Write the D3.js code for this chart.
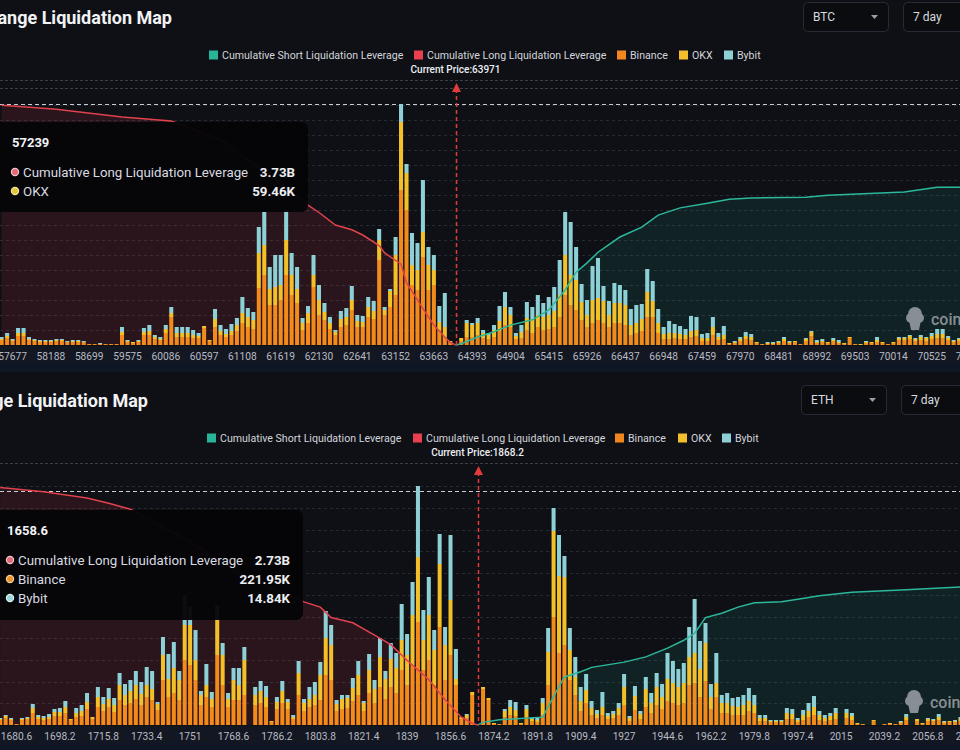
<!DOCTYPE html>
<html>
<head>
<meta charset="utf-8">
<script src="https://cdn.jsdelivr.net/npm/d3@7"></script>
<style>
  html, body { margin: 0; padding: 0; background: #0e1016; overflow: hidden; }
  svg { display: block; }
  text { font-family: Roboto, "Noto Sans", sans-serif; }
</style>
</head>
<body>
<svg id="chart" width="960" height="750"></svg>
<script>
// ---- BTC panel data (bins, K USD) ----
const btcTicks = ['57677','58188','58699','59575','60086','60597','61108','61619','62130','62641','63152','63663',
  '64393','64904','65415','65926','66437','66948','67459','67970','68481','68992','69503','70014','70525','71036']

const btcBinance = [
  5,7,4,9,9,5,4,3,3,3,4,4,3,3,3,3,
  1,1,1,1,1,1,
  10,3,2,3,10,10,6,5,12,28,
  8,8,8,7,7,17,4,18,10,8,
  10,14,22,18,16,57,70,40,40,45,
  70,50,42,15,22,58,30,25,16,10,
  18,20,35,18,18,28,26,85,30,38,
  50,155,135,60,55,88,55,60,15,8,
  3,0,4,8,8,10,7,6,8,14,
  20,18,6,7,15,12,18,15,16,18,
  28,50,40,35,25,18,22,25,22,18,
  22,22,20,10,12,14,28,28,12,6,
  6,7,6,6,8,9,4,4,10,5,
  6,1,2,4,6,5,2,1,1,1,
  2,4,2,3,1,4,9,2,3,2,
  4,2,1,7,1,0,2,2,3,2,
  1,2,5,5,6,4,5,4,6,7,
  7,5,3,4,3,3,2]
const btcOkx = [
  1,2,1,3,3,1,1,1,1,1,1,1,0,1,1,0,
  0,0,0,0,0,0,
  3,1,1,1,3,4,2,1,4,4,
  4,4,4,3,2,2,1,8,4,3,
  4,6,10,10,9,35,30,16,18,15,
  35,20,14,7,10,12,15,8,6,3,
  8,8,10,6,5,10,8,20,5,16,
  40,68,37,20,20,25,25,15,8,10,
  1,0,3,14,12,12,5,4,7,10,
  18,12,3,6,12,14,12,13,14,16,
  22,40,30,30,18,12,23,22,22,12,
  20,20,20,10,10,12,25,16,10,5,
  6,5,5,4,6,6,3,3,8,3,
  4,1,1,2,3,3,1,0,1,1,
  1,2,1,1,0,2,4,1,1,1,
  1,1,1,1,0,1,1,1,2,1,
  0,1,2,2,3,2,3,3,3,4,
  4,2,1,2,1,1,1]
const btcBybit = [
  2,3,1,5,5,2,1,1,1,1,1,1,1,1,1,1,
  0,0,1,0,0,0,
  5,1,0,1,4,6,2,2,4,6,
  6,6,6,5,3,0,0,10,6,5,
  7,7,16,9,8,26,33,22,32,30,
  30,22,22,5,7,20,15,9,6,2,
  8,9,14,6,6,10,10,11,3,2,
  18,18,9,32,27,52,18,15,16,34,
  0,0,0,3,2,5,3,2,5,15,
  15,8,3,7,16,12,20,14,18,24,
  35,43,53,33,18,15,34,40,15,14,
  20,18,15,16,18,15,23,20,14,7,
  12,9,8,6,15,13,4,5,10,4,
  9,0,1,2,4,3,0,0,1,1,
  1,2,1,0,0,1,1,2,2,0,
  2,2,0,0,0,0,1,0,3,0,
  0,0,1,1,1,1,2,1,3,5,
  5,2,1,1,1,1,1]

// cumulative leverage, [bin index, billions]
const btcLongCum = [[0,3.62],[10,3.56],[22,3.44],[31,3.38],[40,3.1],[50,2.5],[56,2.11],[58,2.0],[61,1.81],
  [64,1.74],[66,1.66],[69,1.5],[70,1.39],[73,1.22],[74,0.94],[76,0.68],[77,0.55],[79,0.3],[81,0.12],[82,0.04],[83,0]]
const btcShortCum = [[83,0],[84,0.02],[87,0.12],[90,0.2],[93,0.3],[97,0.38],[100,0.53],[103,0.83],[105,1.1],
  [107,1.24],[109,1.4],[113,1.63],[117,1.78],[120,1.96],[124,2.07],[129,2.14],[133,2.2],[137,2.22],[147,2.23],
  [151,2.26],[165,2.31],[171,2.38],[176,2.38]]

// ---- ETH panel data ----
const ethTicks = ['1680.6','1698.2','1715.8','1733.4','1751','1768.6','1786.2','1803.8','1821.4','1839','1856.6',
  '1874.2','1891.8','1909.4','1927','1944.6','1962.2','1979.8','1997.4','2015','2039.2','2056.8','2074.4']

const ethBinance = [
  5,7,5,1,5,6,12,6,5,6,
  9,9,12,5,8,9,16,6,18,14,
  18,13,25,20,22,26,20,28,25,15,
  45,28,32,25,65,60,45,20,28,18,
  70,40,18,25,25,30,0,20,22,18,
  3,16,22,16,6,30,14,18,20,25,
  50,45,14,16,17,24,30,14,32,22,
  38,26,38,32,55,40,60,103,55,65,
  40,98,45,70,40,6,7,30,0,36,
  25,1,1,8,10,9,1,8,4,3,
  10,40,108,72,80,45,30,14,22,10,
  7,10,6,7,10,20,4,15,6,18,
  12,20,16,24,22,20,22,40,42,28,
  44,16,28,12,12,10,10,10,14,12,
  4,4,3,3,3,6,6,3,5,8,
  10,5,4,5,6,0,7,5,1,1,
  0,4,0,1,1,1,2,5,0,4,
  1,4,4,5,2,3,3,4,3,3,3]
const ethOkx = [
  1,2,1,0,1,1,5,2,2,2,
  4,4,6,1,4,5,7,2,10,7,
  8,7,15,10,12,14,11,12,11,6,
  25,18,25,20,35,40,20,10,12,8,
  35,30,8,20,15,35,0,10,12,10,
  1,7,12,7,2,22,8,8,10,25,
  37,35,7,10,10,13,20,8,23,14,
  30,20,28,25,30,30,50,65,30,45,
  35,63,35,55,6,2,3,3,0,2,
  2,1,0,6,8,6,1,8,2,2,
  12,33,86,77,68,30,18,10,13,7,
  4,8,3,4,7,18,3,14,5,18,
  10,18,12,22,20,18,20,28,30,28,
  38,12,14,10,10,9,8,10,10,8,
  3,3,1,1,1,6,5,2,5,6,
  8,5,3,4,6,0,5,4,1,0,
  0,1,0,0,1,0,1,3,0,2,
  1,2,1,3,1,1,1,2,2,2,1]
const ethBybit = [
  1,1,1,0,1,1,4,2,2,3,
  3,4,6,0,5,6,9,0,10,7,
  11,7,12,11,11,14,12,18,18,2,
  18,25,26,9,30,18,30,4,21,7,
  15,12,6,12,17,13,0,8,10,11,
  0,5,10,3,2,12,4,12,13,13,
  27,20,4,4,3,10,14,2,16,9,
  19,8,16,15,36,21,33,71,30,38,
  20,30,18,65,30,0,1,0,0,0,
  0,0,0,2,7,8,0,4,1,2,
  5,24,23,41,21,22,20,14,16,7,
  4,15,3,3,5,13,2,10,3,12,
  10,14,13,26,22,18,20,30,54,28,
  20,13,30,8,10,8,10,10,13,10,
  3,3,1,1,1,5,5,2,5,8,
  11,4,3,3,5,0,4,3,0,0,
  0,0,0,0,0,0,1,3,0,0,
  0,1,1,3,1,0,1,2,1,1,1]

const ethLongCum = [[0,2.72],[8,2.67],[16,2.6],[20,2.54],[24,2.47],[35,2.1],[45,1.7],[56,1.41],[59,1.35],[61,1.23],
  [65,1.17],[69,1.03],[72,0.92],[75,0.74],[79,0.52],[82,0.29],[85,0.09],[87,0.02],[88,0]]
const ethShortCum = [[88,0],[89,0.03],[92,0.06],[100,0.09],[101,0.21],[103,0.44],[104,0.55],[107,0.61],[109,0.66],
  [115,0.72],[119,0.78],[123,0.88],[126,0.97],[128,1.05],[130,1.23],[133,1.28],[136,1.35],[139,1.4],[144,1.41],
  [147,1.44],[151,1.48],[157,1.52],[167,1.55],[177,1.58]]

const legendItems = [
  { name: 'Cumulative Short Liquidation Leverage', color: '#27b499' },
  { name: 'Cumulative Long Liquidation Leverage', color: '#e8404f' },
  { name: 'Binance', color: '#f0871e' },
  { name: 'OKX', color: '#f3be2c' },
  { name: 'Bybit', color: '#8dd0d6' },
]
const exColors = { binance: '#f28a1c', okx: '#f4c02a', bybit: '#8dd0d6' }

const svg = d3.select('#chart')

function drawPanel(p) {
  const g = svg.append('g').attr('class', 'panel')
  const n = p.binance.length

  // category scale: bin centres at c0 + i*step
  const x = d3.scaleBand().domain(d3.range(n))
    .range([p.c0 - p.step / 2, p.c0 - p.step / 2 + n * p.step])
    .paddingInner(0.26).paddingOuter(0.13)
  const cx = (i) => x(i) + x.bandwidth() / 2
  const y = d3.scaleLinear().domain([0, p.yMax]).range([p.base, p.yTop])
  const yc = d3.scaleLinear().domain([0, p.cumMax]).range([p.base, p.cumTop])

  // label strip under the plot
  g.append('rect').attr('x', 0).attr('y', p.base + 1).attr('width', 960).attr('height', 17).attr('fill', '#131722')
  g.append('rect').attr('x', 0).attr('y', p.base + 18).attr('width', 960).attr('height', p.stripH).attr('fill', '#0f1727')

  // title
  g.append('text').attr('x', p.titleX).attr('y', p.titleY).attr('text-anchor', 'end')
    .attr('fill', '#f2f3f5').attr('font-size', 18).attr('font-weight', 700)
    .text('Exchange Liquidation Map')

  // selectors
  const boxes = [{ x: p.boxX, label: p.coin, caret: true }, { x: p.boxX + 100, label: '7 day', caret: false }]
  boxes.forEach((b) => {
    g.append('rect').attr('x', b.x + 0.5).attr('y', p.boxY + 0.5).attr('width', 85).attr('height', 29).attr('rx', 4)
      .attr('fill', '#0a0c10').attr('stroke', '#272b35')
    g.append('text').attr('x', b.x + 10).attr('y', p.boxY + 19).attr('fill', '#d8dade').attr('font-size', 12).text(b.label)
    if (b.caret) {
      g.append('path').attr('d', `M${b.x + 68},${p.boxY + 13}l7,0l-3.5,4z`).attr('fill', '#9a9ea8')
    }
  })

  // legend
  legendItems.forEach((d, i) => {
    const lx = p.legendX[i]
    g.append('rect').attr('x', lx).attr('y', p.legendY - 4.5).attr('width', 9).attr('height', 9).attr('fill', d.color)
    g.append('text').attr('x', lx + 13).attr('y', p.legendY + 3.7).attr('fill', '#d3d5da').attr('font-size', 10.6)
      .text(d.name)
  })

  // grid
  const gridVals = d3.range(p.gridStep, p.yMax, p.gridStep)
  g.selectAll('line.grid').data(gridVals).join('line').attr('class', 'grid')
    .attr('x1', 0).attr('x2', 960).attr('y1', (d) => Math.round(y(d)) + 0.5).attr('y2', (d) => Math.round(y(d)) + 0.5)
    .attr('stroke', '#262a33').attr('stroke-dasharray', '3,3')
  g.selectAll('line.cgrid').data(p.cumGrid).join('line').attr('class', 'cgrid')
    .attr('x1', 0).attr('x2', 960).attr('y1', (d) => Math.round(yc(d)) + 0.5).attr('y2', (d) => Math.round(yc(d)) + 0.5)
    .attr('stroke', '#3a3e47').attr('stroke-dasharray', '3,2')

  // cumulative areas
  const area = d3.area().x((d) => cx(d[0])).y0(p.base).y1((d) => yc(d[1]))
  g.append('path').datum(p.longCum).attr('d', area).attr('fill', '#e8404f').attr('fill-opacity', 0.13)
  g.append('path').datum(p.shortCum).attr('d', area).attr('fill', '#27b499').attr('fill-opacity', 0.11)

  // max mark line
  g.append('line').attr('x1', 0).attr('x2', 960)
    .attr('y1', Math.round(y(p.maxLine)) + 0.5).attr('y2', Math.round(y(p.maxLine)) + 0.5)
    .attr('stroke', '#c9cbd0').attr('stroke-dasharray', '4,3')

  // stacked bars
  const rows = d3.range(n).map((i) => ({ i, binance: p.binance[i], okx: p.okx[i], bybit: p.bybit[i] }))
  const series = d3.stack().keys(['binance', 'okx', 'bybit'])(rows)
  g.selectAll('g.layer').data(series).join('g').attr('class', 'layer')
    .attr('fill', (s) => exColors[s.key])
    .selectAll('rect').data((s) => s).join('rect')
    .attr('x', (d) => x(d.data.i)).attr('width', x.bandwidth())
    .attr('y', (d) => y(d[1])).attr('height', (d) => y(d[0]) - y(d[1]))

  // cumulative lines
  const line = d3.line().x((d) => cx(d[0])).y((d) => yc(d[1]))
  g.append('path').datum(p.longCum).attr('d', line).attr('fill', 'none').attr('stroke', '#e0424e').attr('stroke-width', 1.5)
  g.append('path').datum(p.shortCum).attr('d', line).attr('fill', 'none').attr('stroke', '#2cb89c').attr('stroke-width', 1.5)

  // x axis
  const tickIdx = p.ticks.map((t, i) => p.tick0 + i * p.tickEvery)
  const axis = g.append('g').attr('transform', `translate(0,${p.base})`)
    .call(d3.axisBottom(x).tickValues(tickIdx).tickFormat((d, i) => p.ticks[i]).tickSize(0).tickPadding(8))
  axis.select('.domain').remove()
  axis.selectAll('text').attr('fill', '#b7bbc4').attr('font-size', 10.2).attr('font-family', 'Roboto, sans-serif')

  // current price
  const px = Math.round(cx(p.priceIdx)) + 0.5
  g.append('line').attr('x1', px).attr('x2', px).attr('y1', p.arrowY + 6).attr('y2', p.base)
    .attr('stroke', '#e23b3b').attr('stroke-width', 1.5).attr('stroke-dasharray', '4,3')
  g.append('path').attr('d', `M${px},${p.arrowY}l4.5,9l-9,0z`).attr('fill', '#e23b3b')
  g.append('text').attr('x', px - 1).attr('y', p.arrowY - 10).attr('text-anchor', 'middle')
    .attr('fill', '#eceef1').attr('font-size', 10).attr('font-weight', 500).text('Current Price:' + p.price)

  // watermark
  const wm = g.append('g').attr('fill', '#9ea2a8').attr('opacity', 0.85)
  wm.append('circle').attr('cx', p.wmX).attr('cy', p.wmY - 6).attr('r', 7)
  wm.append('circle').attr('cx', p.wmX - 4).attr('cy', p.wmY - 2).attr('r', 5)
  wm.append('circle').attr('cx', p.wmX + 4).attr('cy', p.wmY - 2).attr('r', 5)
  wm.append('path').attr('d', `M${p.wmX - 6},${p.wmY}l12,0l-2,10l-8,0z`)
  wm.append('text').attr('x', p.wmX + 16).attr('y', p.wmY + 5).attr('font-size', 16).attr('font-weight', 500).text('coinglass')

  // tooltip
  const tt = g.append('g')
  tt.append('rect').attr('x', -10).attr('y', p.tip.y).attr('width', p.tip.w + 10).attr('height', p.tip.h).attr('rx', 7)
    .attr('fill', '#050507').attr('fill-opacity', 0.96)
  tt.append('text').attr('x', p.tip.tx).attr('y', p.tip.y + 25).attr('fill', '#f1f2f4').attr('font-size', 13)
    .attr('font-weight', 700).text(p.tip.title)
  p.tip.rows.forEach((r, i) => {
    const ry = p.tip.y + 50 + i * 19
    tt.append('circle').attr('cx', p.tip.tx + 3).attr('cy', ry).attr('r', 3.6).attr('fill', r.color)
      .attr('stroke', r.ring).attr('stroke-width', 1.2)
    tt.append('text').attr('x', p.tip.tx + 11).attr('y', ry + 4.5).attr('fill', '#d9dbe0').attr('font-size', 13.3).text(r.name)
    tt.append('text').attr('x', p.tip.w - 13).attr('y', ry + 4.5).attr('text-anchor', 'end').attr('fill', '#eceef1')
      .attr('font-size', 13.3).attr('font-weight', 700).text(r.value)
  })
}

drawPanel({
  coin: 'BTC', price: '63971', priceIdx: 83,
  binance: btcBinance, okx: btcOkx, bybit: btcBybit, longCum: btcLongCum, shortCum: btcShortCum,
  ticks: btcTicks, tick0: 2, tickEvery: 7,
  c0: 1.66, step: 5.471, base: 345, yTop: 104, yMax: 241, gridStep: 15, maxLine: 241,
  cumMax: 4, cumTop: 80, cumGrid: [4, 3.88], stripH: 9,
  titleX: 172, titleY: 24, boxX: 803, boxY: 2,
  legendY: 55, legendX: [209, 414, 617, 679, 724],
  arrowY: 83, wmX: 915, wmY: 320,
  tip: { y: 122, h: 90, w: 308, tx: 12, title: '57239', rows: [
    { name: 'Cumulative Long Liquidation Leverage', value: '3.73B', color: '#e06a78', ring: '#f4c4cb' },
    { name: 'OKX', value: '59.46K', color: '#e3c441', ring: '#f6e6a2' },
  ] },
})

drawPanel({
  coin: 'ETH', price: '1868.2', priceIdx: 88,
  binance: ethBinance, okx: ethOkx, bybit: ethBybit, longCum: ethLongCum, shortCum: ethShortCum,
  ticks: ethTicks, tick0: 3, tickEvery: 8,
  c0: 0.225, step: 5.425, base: 725, yTop: 486, yMax: 239, gridStep: 21.7, maxLine: 234.5,
  cumMax: 3, cumTop: 463, cumGrid: [3], stripH: 8,
  titleX: 148, titleY: 407, boxX: 801, boxY: 385,
  legendY: 438, legendX: [207, 413, 615, 678, 722],
  arrowY: 466, wmX: 914, wmY: 703,
  tip: { y: 510, h: 110, w: 303, tx: 7, title: '1658.6', rows: [
    { name: 'Cumulative Long Liquidation Leverage', value: '2.73B', color: '#e06a78', ring: '#f4c4cb' },
    { name: 'Binance', value: '221.95K', color: '#e8952e', ring: '#f6cf93' },
    { name: 'Bybit', value: '14.84K', color: '#9fd6dc', ring: '#d8f0f2' },
  ] },
})
</script>
</body>
</html>
